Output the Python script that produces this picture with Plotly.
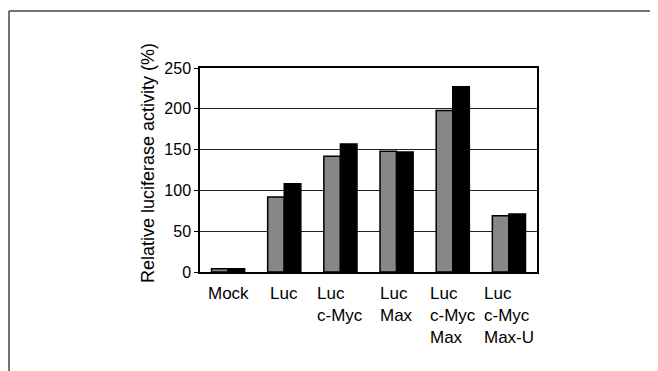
import plotly.graph_objects as go

categories = ["Mock", "Luc", "Luc c-Myc", "Luc Max", "Luc c-Myc Max", "Luc c-Myc Max-U"]
tick_labels = ["Mock", "Luc", "Luc<br>c-Myc", "Luc<br>Max", "Luc<br>c-Myc<br>Max", "Luc<br>c-Myc<br>Max-U"]
series_gray = [4, 92, 142, 148, 198, 69]
series_black = [4, 108, 157, 147, 227, 71]
y_title = "Relative luciferase activity (%)"

# page body has an 8px margin; figure coordinates = page - 8
W, H = 650, 363
ML, MR, MT, MB = 192, 121, 60, 99
pw, ph = W - ML - MR, H - MT - MB

def px_x(x):
    return (x - 8 - ML) / pw

def px_y(y):
    return (H - MB - (y - 8)) / ph

FONT = "Liberation Sans, Arial, Helvetica, sans-serif"

fig = go.Figure()
fig.add_trace(go.Bar(x=categories, y=series_gray, marker=dict(color="#878787", line=dict(color="black", width=1.5)), showlegend=False))
fig.add_trace(go.Bar(x=categories, y=series_black, marker=dict(color="black", line=dict(color="black", width=1.5)), showlegend=False))

for c, t in zip(categories, tick_labels):
    fig.add_annotation(x=c, y=0, xref="x", yref="paper", text=t, showarrow=False,
                       xanchor="center", yanchor="top", align="left", yshift=-10,
                       font=dict(family=FONT, size=17, color="black"))

# y-axis title placed as rotated annotation
fig.add_annotation(x=px_x(148), y=px_y(163), xref="paper", yref="paper", text=y_title, textangle=-90,
                   showarrow=False, xanchor="center", yanchor="middle",
                   font=dict(family=FONT, size=18, color="black"))

# outer frame (top and left edges)
fig.add_shape(type="line", xref="paper", yref="paper", x0=px_x(9), x1=px_x(662), y0=px_y(11), y1=px_y(11),
              line=dict(color="#444444", width=1.5))
fig.add_shape(type="line", xref="paper", yref="paper", x0=px_x(9), x1=px_x(9), y0=px_y(11), y1=px_y(380),
              line=dict(color="#444444", width=1.5))

fig.update_layout(
    width=W, height=H, margin=dict(l=ML, r=MR, t=MT, b=MB),
    paper_bgcolor="white", plot_bgcolor="white",
    barmode="group", bargap=0.41, bargroupgap=0,
    font=dict(family=FONT, size=16, color="black"),
    xaxis=dict(showticklabels=False, ticks="", showline=True, linecolor="black", linewidth=1.5, mirror=True,
               showgrid=False),
    yaxis=dict(range=[0, 250], dtick=50, showline=True, linecolor="black", linewidth=1.5, mirror=True,
               showgrid=True, gridcolor="#222222", gridwidth=1, ticks="outside", ticklen=4, tickcolor="black",
               tickfont=dict(size=16), zeroline=False),
)

fig.write_html("out.html")
